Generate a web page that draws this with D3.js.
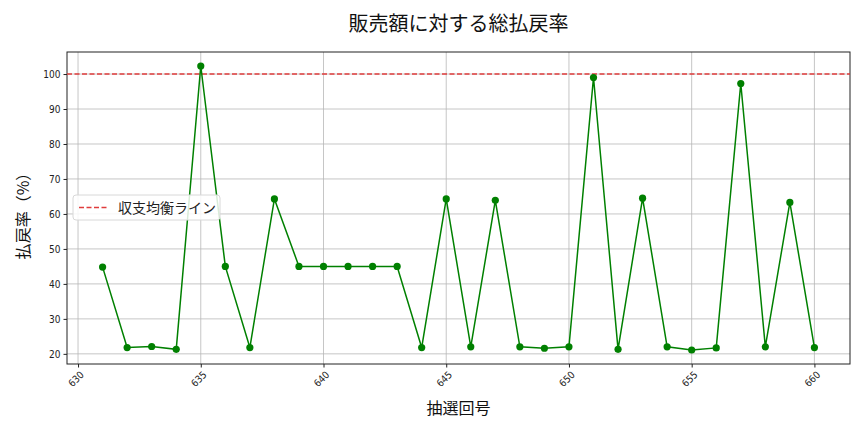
<!DOCTYPE html>
<html>
<head>
<meta charset="utf-8">
<script src="https://cdn.jsdelivr.net/npm/d3@7"></script>
<style>
  body { margin: 0; background: #fff; }
  text { font-family: "Noto Sans CJK JP", "DejaVu Sans", sans-serif; }
  .tick text { font-family: "DejaVu Sans Condensed", "Liberation Sans Narrow", "Noto Sans CJK JP", sans-serif; }
</style>
</head>
<body>
<svg id="chart" width="864" height="432"></svg>
<script>
// Data
// ----
var draws = [631, 632, 633, 634, 635, 636, 637, 638, 639, 640,
             641, 642, 643, 644, 645, 646, 647, 648, 649, 650,
             651, 652, 653, 654, 655, 656, 657, 658, 659, 660];
var payoutRate = [44.8, 21.8, 22.1, 21.3, 102.3, 45.0, 21.8, 64.3, 45.0, 45.0,
                  45.0, 45.0, 45.0, 21.8, 64.3, 22.0, 63.9, 22.0, 21.6, 22.0,
                  99.0, 21.3, 64.5, 22.0, 21.1, 21.7, 97.3, 22.0, 63.3, 21.8];
var xTicks = [630, 635, 640, 645, 650, 655, 660];
var yTicks = [20, 30, 40, 50, 60, 70, 80, 90, 100];
var breakEven = 100;

var titleText = "販売額に対する総払戻率";
var xLabel = "抽選回号";
var yLabel = "払戻率（%）";
var legendLabel = "収支均衡ライン";

// Layout
// ------
var margin = {left: 67, right: 14, top: 52, bottom: 68};
var w = 864 - margin.left - margin.right;
var h = 432 - margin.top - margin.bottom;

var svg = d3.select("#chart");
var g = svg.append("g").attr("transform", "translate(" + margin.left + "," + margin.top + ")");

var xScale = d3.scaleLinear().domain([629.55, 661.45]).range([0, w]);
var yScale = d3.scaleLinear().domain([17.1, 106.3]).range([h, 0]);

// Grid
// ----
g.append("g").selectAll("line").data(xTicks).enter().append("line")
  .attr("x1", function(d) { return xScale(d) }).attr("x2", function(d) { return xScale(d) })
  .attr("y1", 0).attr("y2", h)
  .attr("stroke", "#b8b8b8").attr("stroke-width", 0.8);
g.append("g").selectAll("line").data(yTicks).enter().append("line")
  .attr("x1", 0).attr("x2", w)
  .attr("y1", function(d) { return yScale(d) }).attr("y2", function(d) { return yScale(d) })
  .attr("stroke", "#b8b8b8").attr("stroke-width", 0.8);

// Axes
// ----
var xAxis = g.append("g").attr("transform", "translate(0," + h + ")")
  .call(d3.axisBottom(xScale).tickValues(xTicks).tickSize(3.5).tickFormat(d3.format("d")));
xAxis.selectAll("text")
  .attr("font-size", 10).attr("fill", "#222")
  .attr("text-anchor", "middle").attr("x", 0).attr("y", 0).attr("dy", "0.35em")
  .attr("transform", "translate(-2.5,15) rotate(-45)");

var yAxis = g.append("g")
  .call(d3.axisLeft(yScale).tickValues(yTicks).tickSize(3.5));
yAxis.selectAll("text").attr("font-size", 10).attr("fill", "#222");

[xAxis, yAxis].forEach(function(a) {
  a.select(".domain").remove();
  a.selectAll("line").attr("stroke", "#222");
});

g.append("rect").attr("width", w).attr("height", h)
  .attr("fill", "none").attr("stroke", "#222").attr("stroke-width", 1);

// Break-even line
// ---------------
var red = "#e03c3c";
g.append("line")
  .attr("x1", 0).attr("x2", w)
  .attr("y1", yScale(breakEven)).attr("y2", yScale(breakEven))
  .attr("stroke", red).attr("stroke-width", 1.5).attr("stroke-dasharray", "5,2.5");

// Series
// ------
var pts = draws.map(function(d, i) { return {x: d, y: payoutRate[i]}; });
var line = d3.line().x(function(d) { return xScale(d.x) }).y(function(d) { return yScale(d.y) });
g.append("path").datum(pts).attr("d", line)
  .attr("fill", "none").attr("stroke", "#008000").attr("stroke-width", 1.5);
g.selectAll(".pt").data(pts).enter().append("circle")
  .attr("class", "pt")
  .attr("cx", function(d) { return xScale(d.x) })
  .attr("cy", function(d) { return yScale(d.y) })
  .attr("r", 3.6).attr("fill", "#008000");

// Legend
// ------
var lg = g.append("g").attr("transform", "translate(6,143)");
lg.append("rect").attr("width", 147).attr("height", 25).attr("rx", 3)
  .attr("fill", "#fff").attr("fill-opacity", 0.85).attr("stroke", "#d8d8d8");
lg.append("line").attr("x1", 6).attr("x2", 34).attr("y1", 12.5).attr("y2", 12.5)
  .attr("stroke", red).attr("stroke-width", 1.5).attr("stroke-dasharray", "5,2.5");
lg.append("text").attr("x", 45).attr("y", 17.5).attr("font-size", 14).attr("fill", "#222")
  .text(legendLabel);

// Titles
// ------
svg.append("text").attr("x", margin.left + w / 2).attr("y", 31)
  .attr("text-anchor", "middle").attr("font-size", 20).attr("fill", "#111")
  .text(titleText);
svg.append("text").attr("x", margin.left + w / 2).attr("y", 414)
  .attr("text-anchor", "middle").attr("font-size", 16).attr("fill", "#111")
  .text(xLabel);
svg.append("text").attr("transform", "translate(29," + (margin.top + h / 2 + 4) + ") rotate(-90)")
  .attr("text-anchor", "middle").attr("font-size", 16).attr("fill", "#111")
  .text(yLabel);
</script>
</body>
</html>
